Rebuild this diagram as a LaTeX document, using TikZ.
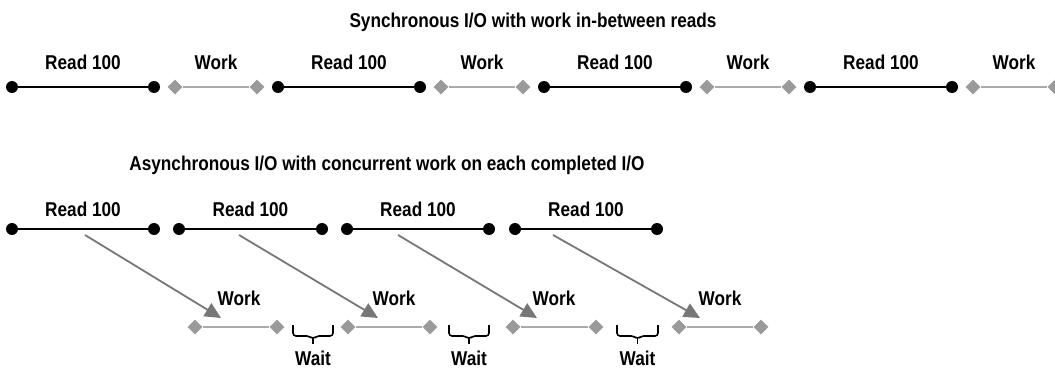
\documentclass[tikz,border=0pt]{standalone}
\usepackage{fontspec}
\setmainfont{Liberation Sans}[FakeStretch=0.86]
\usetikzlibrary{shapes.geometric,arrows.meta}
\definecolor{dgray}{HTML}{9A9A9A}
\definecolor{lgray}{HTML}{AAAAAA}
\definecolor{agray}{HTML}{777777}
\tikzset{
  rdot/.style={circle,fill=black,inner sep=0pt,minimum size=12pt},
  wdia/.style={diamond,fill=dgray,inner sep=0pt,minimum size=15pt},
  rline/.style={black,line width=2.2pt},
  wline/.style={lgray,line width=2.2pt},
  arr/.style={agray,line width=1.8pt,-{Triangle[length=16pt,width=15pt]}},
  lbl/.style={anchor=base,inner sep=0pt,font=\fontsize{20}{20}\selectfont\bfseries},
  ttl/.style={anchor=base,inner sep=0pt,font=\fontsize{20}{20}\selectfont\bfseries},
  brc/.style={black,line width=1.6pt,rounded corners=3pt}
}
\begin{document}
\begin{tikzpicture}[x=1pt,y=-1pt]
\useasboundingbox (0,0) rectangle (1055,369);
% titles
\node[ttl] (t1) at (533,28) {Synchronous I/O with work in-between reads};
\node[ttl] (t2) at (387,170) {Asynchronous I/O with concurrent work on each completed I/O};
% top row
\foreach \i in {0,1,2,3}{
  \pgfmathsetmacro{\o}{266*\i}
  \node[rdot] (ra\i) at (12+\o,87) {};
  \node[rdot] (rb\i) at (154+\o,87) {};
  \draw[rline] (ra\i) -- (rb\i);
  \node[wdia] (wa\i) at (175+\o,87) {};
  \node[wdia] (wb\i) at (257+\o,87) {};
  \draw[wline] (wa\i) -- (wb\i);
  \node[lbl] (rl\i) at (83+\o,70) {Read 100};
  \node[lbl] (wl\i) at (216+\o,70) {Work};
}
% bottom row
\foreach \i/\ra/\rb/\wa/\wb/\as/\at/\wc in {0/12/154/195/277/85/221/239, 1/179/322/348/430/239/378/394, 2/347/489/513/596/398/537/554, 3/515/657/679/761/553/700/720}{
  \node[rdot] (Ra\i) at (\ra,229) {};
  \node[rdot] (Rb\i) at (\rb,229) {};
  \draw[rline] (Ra\i) -- (Rb\i);
  \node[lbl] (Rl\i) at ({(\ra+\rb)/2},216) {Read 100};
  \node[wdia] (Wa\i) at (\wa,327) {};
  \node[wdia] (Wb\i) at (\wb,327) {};
  \draw[wline] (Wa\i) -- (Wb\i);
  \node[lbl] (Wl\i) at (\wc,305) {Work};
  \coordinate (As\i) at (\as,235);
  \coordinate (At\i) at (\at,318);
  \draw[arr] (As\i) -- (At\i);
}
\foreach \i/\ba/\bb in {0/293/333, 1/449/489, 2/617/658}{
  \pgfmathsetmacro{\bm}{(\ba+\bb)/2}
  \coordinate (Ba\i) at (\ba,325);
  \coordinate (Bb\i) at (\bb,325);
  \coordinate (Bm\i) at (\bm,344);
  \draw[brc] (Ba\i) -- (\ba,336) -- (\bm-4,336) -- (\bm,339) -- (\bm+4,336) -- (\bb,336) -- (Bb\i);
  \draw[black,line width=1.6pt] (\bm,338) -- (Bm\i);
  \node[lbl] (Wt\i) at (\bm,365) {Wait};
}
\end{tikzpicture}
\end{document}
